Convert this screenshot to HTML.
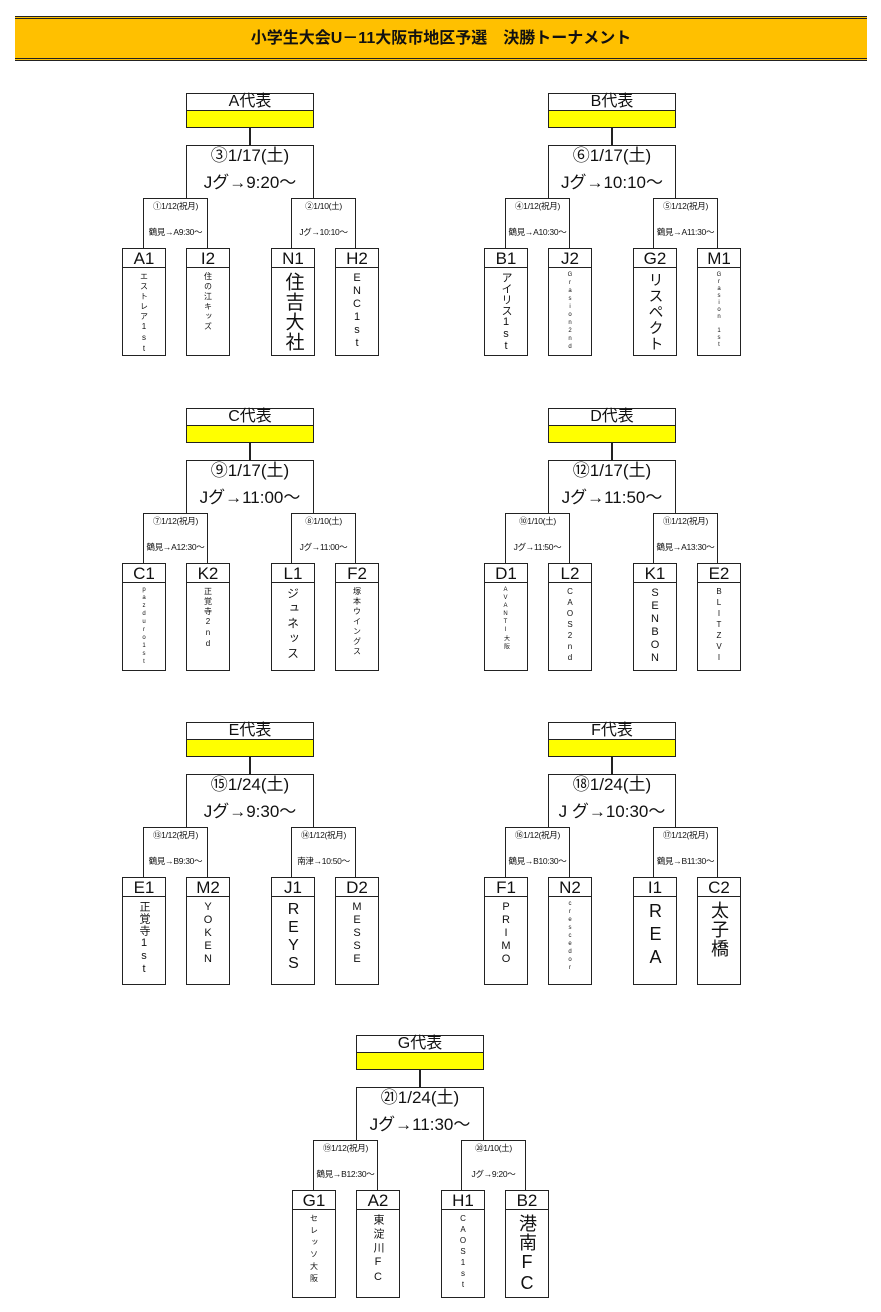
<!DOCTYPE html>
<html><head><meta charset="utf-8"><style>
*{margin:0;padding:0;box-sizing:border-box}
body{width:881px;height:1312px;background:#fff;position:relative;font-family:"Liberation Sans","Noto Sans CJK JP",sans-serif;color:#111;overflow:hidden}
.title{position:absolute;left:15px;top:16px;width:852px;height:45px;background:#FFC000;border-top:3px double #222;border-bottom:3px double #222;text-align:center;font-weight:bold;font-size:16px;line-height:39px}
.blk{position:absolute;width:128px;height:262px}
.blk div{position:absolute}
.rep{left:0;top:0;width:128px;height:35px;border:1.5px solid #222;background:#ff0}
.rep span{position:absolute;left:0;top:0;width:100%;height:17px;background:#fff;border-bottom:1.5px solid #222;text-align:center;font-size:16px;line-height:15px}
.stem{left:63px;top:35px;width:1.5px;height:17px;background:#222}
.main{left:0;top:52px;width:128px;height:53px;border:1.5px solid #222;border-bottom:none;text-align:center;font-size:17px;line-height:27px}
.main p{position:relative;top:-4px}
.sub{top:105px;width:65px;height:50px;border:1.5px solid #222;border-bottom:none;text-align:center;font-size:8.5px;line-height:12px;white-space:nowrap;letter-spacing:-0.3px}
.sub p{margin-top:1px;margin-left:-6px;margin-right:-6px}
.sub p+p{margin-top:14px}
.team{top:155px;width:44px;height:108px;border:1.5px solid #222}
.team b{display:block;font-weight:normal;height:19px;border-bottom:1.5px solid #222;text-align:center;font-size:17px;line-height:19px}
.team i{display:block;font-style:normal;writing-mode:vertical-rl;text-orientation:upright;margin:4px auto 0;height:84px;text-align:start;white-space:nowrap}
.s{font-size:8px;letter-spacing:2px}
.t{font-size:6px;letter-spacing:2px}
.m{font-size:11px;letter-spacing:1px}
.l{font-size:16px;letter-spacing:1px}
</style></head><body>
<div class="title">小学生大会U－11大阪市地区予選　決勝トーナメント</div>

<div class="blk" style="left:186px;top:93px">
<div class="rep"><span>A代表</span></div><div class="stem"></div>
<div class="main"><p>③1/17(土)<br>Jグ→9:20～</p></div>
<div class="sub" style="left:-43px"><p>①1/12(祝月)</p><p>鶴見→A9:30～</p></div>
<div class="sub" style="left:105px"><p>②1/10(土)</p><p>Jグ→10:10～</p></div>
<div class="team" style="left:-64px"><b>A1</b><i class="s">エストレア1st</i></div>
<div class="team" style="left:0"><b>I2</b><i class="s">住の江キッズ</i></div>
<div class="team" style="left:85px"><b>N1</b><i class="l" style="font-size:19px">住吉大社</i></div>
<div class="team" style="left:149px"><b>H2</b><i class="m">ENC1st</i></div>
</div>

<div class="blk" style="left:548px;top:93px">
<div class="rep"><span>B代表</span></div><div class="stem"></div>
<div class="main"><p>⑥1/17(土)<br>Jグ→10:10～</p></div>
<div class="sub" style="left:-43px"><p>④1/12(祝月)</p><p>鶴見→A10:30～</p></div>
<div class="sub" style="left:105px"><p>⑤1/12(祝月)</p><p>鶴見→A11:30～</p></div>
<div class="team" style="left:-64px"><b>B1</b><i class="m" style="letter-spacing:0">アイリス1st</i></div>
<div class="team" style="left:0"><b>J2</b><i class="t">Grasion2nd</i></div>
<div class="team" style="left:85px"><b>G2</b><i class="l" style="font-size:15px">リスペクト</i></div>
<div class="team" style="left:149px"><b>M1</b><i class="t" style="letter-spacing:1px">Grasion 1st</i></div>
</div>

<div class="blk" style="left:186px;top:408px">
<div class="rep"><span>C代表</span></div><div class="stem"></div>
<div class="main"><p>⑨1/17(土)<br>Jグ→11:00～</p></div>
<div class="sub" style="left:-43px"><p>⑦1/12(祝月)</p><p>鶴見→A12:30～</p></div>
<div class="sub" style="left:105px"><p>⑧1/10(土)</p><p>Jグ→11:00～</p></div>
<div class="team" style="left:-64px"><b>C1</b><i class="t">pazduro1st</i></div>
<div class="team" style="left:0"><b>K2</b><i class="s">正覚寺2nd</i></div>
<div class="team" style="left:85px"><b>L1</b><i class="m" style="font-size:12px;letter-spacing:3px">ジュネッス</i></div>
<div class="team" style="left:149px"><b>F2</b><i class="s">塚本ウイングス</i></div>
</div>

<div class="blk" style="left:548px;top:408px">
<div class="rep"><span>D代表</span></div><div class="stem"></div>
<div class="main"><p>⑫1/17(土)<br>Jグ→11:50～</p></div>
<div class="sub" style="left:-43px"><p>⑩1/10(土)</p><p>Jグ→11:50～</p></div>
<div class="sub" style="left:105px"><p>⑪1/12(祝月)</p><p>鶴見→A13:30～</p></div>
<div class="team" style="left:-64px"><b>D1</b><i class="t">AVANTI大阪</i></div>
<div class="team" style="left:0"><b>L2</b><i class="s">CAOS2nd</i></div>
<div class="team" style="left:85px"><b>K1</b><i class="m">SENBON</i></div>
<div class="team" style="left:149px"><b>E2</b><i class="s">BLITZVI</i></div>
</div>

<div class="blk" style="left:186px;top:722px">
<div class="rep"><span>E代表</span></div><div class="stem"></div>
<div class="main"><p>⑮1/24(土)<br>Jグ→9:30～</p></div>
<div class="sub" style="left:-43px"><p>⑬1/12(祝月)</p><p>鶴見→B9:30～</p></div>
<div class="sub" style="left:105px"><p>⑭1/12(祝月)</p><p>南津→10:50～</p></div>
<div class="team" style="left:-64px"><b>E1</b><i class="m">正覚寺1st</i></div>
<div class="team" style="left:0"><b>M2</b><i class="m">YOKEN</i></div>
<div class="team" style="left:85px"><b>J1</b><i class="l">REYS</i></div>
<div class="team" style="left:149px"><b>D2</b><i class="m">MESSE</i></div>
</div>

<div class="blk" style="left:548px;top:722px">
<div class="rep"><span>F代表</span></div><div class="stem"></div>
<div class="main"><p>⑱1/24(土)<br>J グ→10:30～</p></div>
<div class="sub" style="left:-43px"><p>⑯1/12(祝月)</p><p>鶴見→B10:30～</p></div>
<div class="sub" style="left:105px"><p>⑰1/12(祝月)</p><p>鶴見→B11:30～</p></div>
<div class="team" style="left:-64px"><b>F1</b><i class="m">PRIMO</i></div>
<div class="team" style="left:0"><b>N2</b><i class="t">crescedor</i></div>
<div class="team" style="left:85px"><b>I1</b><i class="l" style="font-size:18px;letter-spacing:3px">REA</i></div>
<div class="team" style="left:149px"><b>C2</b><i class="l" style="font-size:18px">太子橋</i></div>
</div>

<div class="blk" style="left:356px;top:1035px">
<div class="rep"><span>G代表</span></div><div class="stem"></div>
<div class="main"><p>㉑1/24(土)<br>Jグ→11:30～</p></div>
<div class="sub" style="left:-43px"><p>⑲1/12(祝月)</p><p>鶴見→B12:30～</p></div>
<div class="sub" style="left:105px"><p>⑳1/10(土)</p><p>Jグ→9:20～</p></div>
<div class="team" style="left:-64px"><b>G1</b><i class="s" style="letter-spacing:4px">セレッソ大阪</i></div>
<div class="team" style="left:0"><b>A2</b><i class="m" style="letter-spacing:3px">東淀川FC</i></div>
<div class="team" style="left:85px"><b>H1</b><i class="s">CAOS1st</i></div>
<div class="team" style="left:149px"><b>B2</b><i class="l" style="font-size:18px">港南FC</i></div>
</div>
</body></html>
